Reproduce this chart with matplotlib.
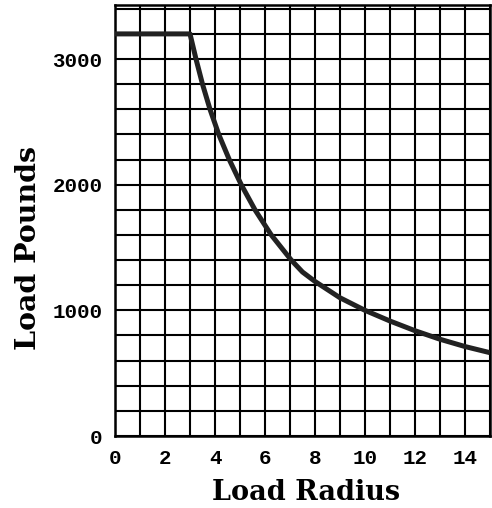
import matplotlib
matplotlib.use("Agg")
import matplotlib.pyplot as plt
from matplotlib.ticker import MultipleLocator

# 读图得到的数值 (半径, 载荷)
radius = [0, 3, 3.24, 3.5, 3.8, 4.15, 4.57, 5.05, 5.6, 6.25, 7.05, 7.5, 8, 9, 10, 11, 12, 13, 14, 15]
load = [3200, 3200, 3000, 2800, 2600, 2400, 2200, 2000, 1800, 1600, 1400, 1305, 1230,
        1100, 1000, 915, 838, 770, 712, 663]
x_ticks = [0, 2, 4, 6, 8, 10, 12, 14]
y_ticks = [0, 1000, 2000, 3000]

fig = plt.figure(figsize=(4.92, 5.08), dpi=100)
ax = fig.add_axes([115 / 492, 1 - 436 / 508, 375 / 492, 431 / 508])

ax.plot(radius, load, color="#222222", lw=3.6, solid_capstyle="butt",
        solid_joinstyle="round", zorder=3)

ax.set_xlim(0, 15)
ax.set_ylim(0, 3430)
ax.set_xticks(x_ticks)
ax.set_yticks(y_ticks)
ax.xaxis.set_minor_locator(MultipleLocator(1))
ax.yaxis.set_minor_locator(MultipleLocator(200))
ax.grid(which="both", color="black", lw=1.5)
ax.tick_params(which="both", length=0)
ax.tick_params(axis="x", pad=9)
ax.tick_params(axis="y", pad=9)
for lab in ax.get_xticklabels() + ax.get_yticklabels():
    lab.set_fontfamily("Liberation Mono")
    lab.set_fontweight("bold")
    lab.set_fontsize(15)
for s in ax.spines.values():
    s.set_linewidth(1.8)
    s.set_color("black")

fig.text(0.622, 0.030, "Load Radius", ha="center", va="center",
         fontfamily="DejaVu Serif", fontweight="bold", fontsize=19.5)
fig.text(0.057, 1 - 248 / 508, "Load Pounds", ha="center", va="center", rotation=90,
         fontfamily="DejaVu Serif", fontweight="bold", fontsize=20.5)

fig.savefig("out.png", dpi=100)
